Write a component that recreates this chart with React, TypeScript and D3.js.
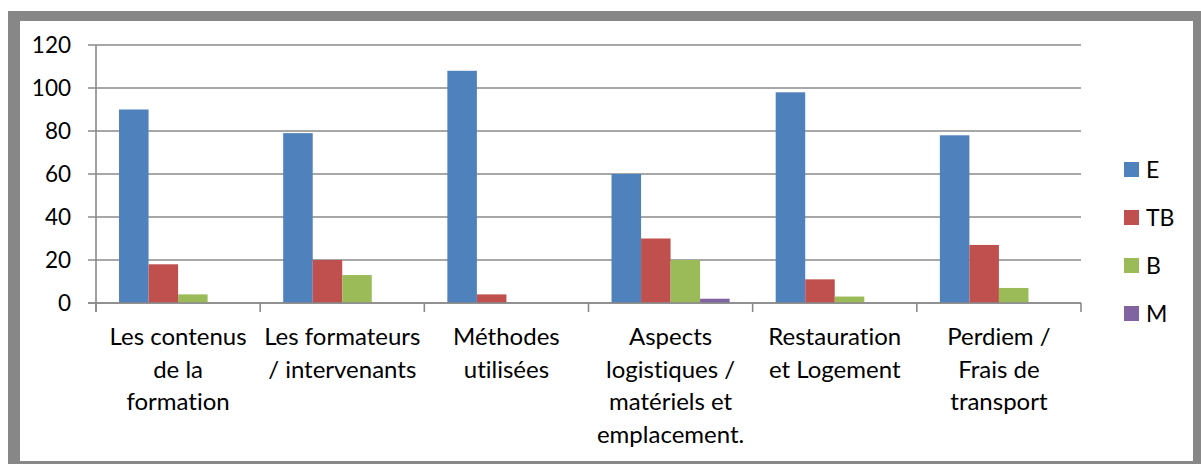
import React from 'react';
import * as d3 from 'd3';

const categories = ['c1', 'c2', 'c3', 'c4', 'c5', 'c6'];
const categoryLines = [
  ['Les contenus', 'de la', 'formation'],
  ['Les formateurs', '/ intervenants'],
  ['Méthodes', 'utilisées'],
  ['Aspects', 'logistiques /', 'matériels et', 'emplacement.'],
  ['Restauration', 'et Logement'],
  ['Perdiem /', 'Frais de', 'transport'],
];
const seriesNames = ['E', 'TB', 'B', 'M'];
const valuesE = [90, 79, 108, 60, 98, 78];
const valuesTB = [18, 20, 4, 30, 11, 27];
const valuesB = [4, 13, 0, 20, 3, 7];
const valuesM = [0, 0, 0, 2, 0, 0];
const yTicks = [0, 20, 40, 60, 80, 100, 120];
const colors = ['#4F81BD', '#C0504D', '#9BBB59', '#8064A2'];

const seriesValues = [valuesE, valuesTB, valuesB, valuesM];

export default function App() {
  const width = 1201;
  const height = 464;
  const margin = { left: 96, right: 120, top: 45, bottom: 161 };
  const font = 'Lato, "Open Sans", sans-serif';

  const x0 = d3
    .scaleBand()
    .domain(categories)
    .range([margin.left, width - margin.right])
    .padding(0);
  const x1 = d3
    .scaleBand()
    .domain(seriesNames)
    .range([0, x0.bandwidth()])
    .paddingInner(0)
    .paddingOuter(0.78);
  const y = d3
    .scaleLinear()
    .domain([0, 120])
    .range([height - margin.bottom, margin.top]);

  const gridColor = '#8a8a8a';
  const boundaries = categories.map((c) => x0(c) as number).concat([width - margin.right]);

  return (
    <svg
      width={width}
      height={height}
      style={{ position: 'absolute', left: 0, top: 0, display: 'block', fontVariantLigatures: 'none' }}
    >
      <rect x={0} y={0} width={width} height={height} fill="#fff" />
      <rect x={8} y={11} width={width - 8} height={height - 11} fill="#878787" />
      <rect x={20} y={21} width={1173} height={440} fill="#fff" />

      {/* gridlines and y ticks */}
      {yTicks.map((t) => (
        <g key={t}>
          <line
            x1={margin.left - 8}
            x2={width - margin.right}
            y1={y(t)}
            y2={y(t)}
            stroke={gridColor}
            strokeWidth={1.6}
          />
          <text
            x={71}
            y={y(t)}
            dy="0.35em"
            textAnchor="end"
            fontFamily={font}
            fontSize={22.5}
            fill="#000"
          >
            {t}
          </text>
        </g>
      ))}

      {/* bars */}
      {categories.map((c, i) => (
        <g key={c} transform={`translate(${x0(c)},0)`}>
          {seriesNames.map((s, j) => {
            const v = seriesValues[j][i];
            if (!v) return null;
            return (
              <rect
                key={s}
                x={x1(s)}
                y={y(v)}
                width={x1.bandwidth()}
                height={y(0) - y(v)}
                fill={colors[j]}
              />
            );
          })}
        </g>
      ))}

      {/* axes */}
      <line
        x1={margin.left}
        x2={margin.left}
        y1={y(120)}
        y2={y(0) + 9}
        stroke={gridColor}
        strokeWidth={1.6}
      />
      <line
        x1={margin.left - 8}
        x2={width - margin.right}
        y1={y(0)}
        y2={y(0)}
        stroke={gridColor}
        strokeWidth={1.6}
      />
      {boundaries.map((bx, i) => (
        <line
          key={i}
          x1={bx}
          x2={bx}
          y1={y(0)}
          y2={y(0) + 9}
          stroke={gridColor}
          strokeWidth={1.6}
        />
      ))}

      {/* category labels */}
      {categories.map((c, i) => (
        <text
          key={c}
          x={(x0(c) as number) + x0.bandwidth() / 2}
          y={345}
          textAnchor="middle"
          fontFamily={font}
          fontSize={24}
          fill="#000"
        >
          {categoryLines[i].map((ln, k) => (
            <tspan key={k} x={(x0(c) as number) + x0.bandwidth() / 2} y={345 + k * 32.5}>
              {ln}
            </tspan>
          ))}
        </text>
      ))}

      {/* legend */}
      {seriesNames.map((s, j) => (
        <g key={s} transform={`translate(1124,${162 + j * 48})`}>
          <rect x={0} y={0} width={15} height={15} fill={colors[j]} />
          <text x={22} y={7.5} dy="0.35em" fontFamily={font} fontSize={23} fill="#000">
            {s}
          </text>
        </g>
      ))}
    </svg>
  );
}
